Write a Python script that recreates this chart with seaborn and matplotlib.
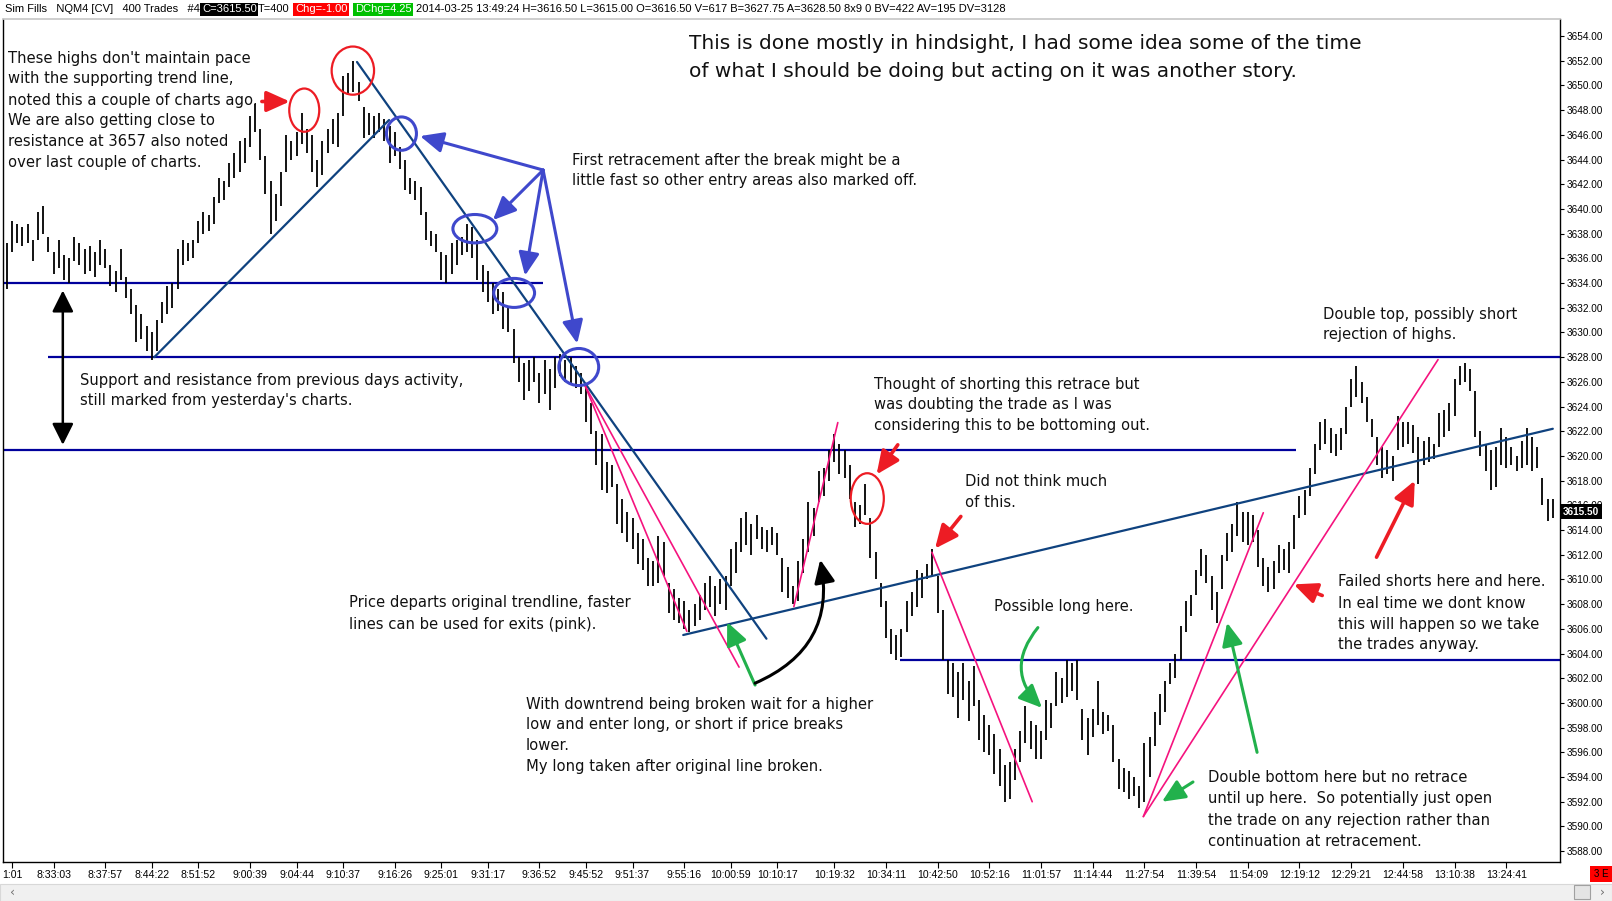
import numpy as np
import pandas as pd
import matplotlib
matplotlib.use("Agg")
import matplotlib.pyplot as plt
import seaborn as sns
from matplotlib.patches import Ellipse, FancyArrowPatch, Rectangle

# ---- NQM4 400 trade bars (high / low per bar) ----
bar_high = [
    3637.25, 3639.00, 3638.75, 3638.50, 3638.75, 3637.50, 3639.75, 3640.25, 3637.75, 3636.50,
    3637.50, 3636.25, 3636.00, 3637.75, 3637.25, 3636.75, 3637.00, 3636.50, 3637.50, 3636.75,
    3635.50, 3635.00, 3636.75, 3634.50, 3633.50, 3632.25, 3631.50, 3630.50, 3630.00, 3631.00,
    3632.50, 3633.75, 3634.00, 3636.75, 3637.50, 3637.25, 3637.50, 3639.00, 3639.75, 3639.50,
    3641.00, 3642.50, 3642.25, 3643.75, 3644.50, 3645.50, 3645.75, 3647.50, 3648.50, 3646.50,
    3644.25, 3642.25, 3641.25, 3643.00, 3646.00, 3645.50, 3646.25, 3647.75, 3646.50, 3646.00,
    3644.00, 3645.50, 3646.50, 3647.25, 3647.75, 3650.75, 3651.00, 3652.00, 3650.25, 3648.25,
    3647.75, 3647.50, 3647.75, 3647.25, 3646.75, 3646.25, 3645.00, 3644.00, 3642.50, 3642.25,
    3641.75, 3639.75, 3638.25, 3638.00, 3636.50, 3636.25, 3637.25, 3637.50, 3637.75, 3638.75,
    3638.50, 3637.50, 3635.50, 3635.00, 3634.00, 3633.50, 3633.25, 3632.00, 3630.25, 3628.00,
    3627.50, 3627.75, 3628.00, 3626.75, 3627.75, 3627.00, 3628.00, 3628.25, 3627.75, 3628.00,
    3627.25, 3626.75, 3625.75, 3624.25, 3622.00, 3621.75, 3619.50, 3619.25, 3617.75, 3616.50,
    3615.50, 3615.00, 3613.75, 3613.25, 3611.75, 3611.50, 3613.50, 3613.00, 3609.75, 3609.25,
    3608.50, 3608.25, 3607.50, 3608.00, 3608.75, 3609.75, 3610.25, 3609.50, 3610.00, 3610.25,
    3612.50, 3613.00, 3615.00, 3615.50, 3614.50, 3615.25, 3614.25, 3614.00, 3614.25, 3613.75,
    3611.75, 3611.00, 3609.50, 3611.50, 3613.25, 3616.25, 3615.75, 3618.75, 3619.00, 3620.50,
    3621.75, 3621.00, 3620.50, 3619.25, 3616.25, 3616.00, 3617.75, 3615.00, 3612.25, 3609.75,
    3608.25, 3606.00, 3605.50, 3606.00, 3608.25, 3609.00, 3610.75, 3610.50, 3611.25, 3612.50,
    3610.25, 3607.50, 3603.50, 3603.25, 3602.50, 3603.25, 3601.75, 3603.00, 3600.25, 3599.00,
    3598.25, 3597.50, 3596.25, 3595.00, 3595.25, 3596.25, 3597.75, 3599.75, 3598.50, 3598.25,
    3597.75, 3600.25, 3600.00, 3602.50, 3602.00, 3603.50, 3603.25, 3603.50, 3599.50, 3598.75,
    3599.50, 3601.75, 3599.25, 3599.00, 3598.25, 3595.50, 3594.75, 3594.50, 3594.00, 3593.25,
    3596.75, 3597.25, 3599.25, 3600.75, 3601.75, 3603.25, 3604.00, 3606.25, 3608.25, 3608.75,
    3610.75, 3612.50, 3612.00, 3610.25, 3609.00, 3612.00, 3613.75, 3614.50, 3616.25, 3615.50,
    3615.50, 3615.25, 3614.00, 3611.75, 3611.00, 3611.50, 3612.75, 3612.50, 3613.00, 3615.25,
    3616.75, 3617.25, 3619.00, 3621.00, 3622.75, 3623.00, 3622.25, 3621.75, 3622.25, 3624.00,
    3626.25, 3627.25, 3626.00, 3624.75, 3623.00, 3621.50, 3620.75, 3620.50, 3620.00, 3623.25,
    3622.75, 3622.75, 3622.50, 3621.50, 3621.25, 3621.50, 3621.00, 3623.50, 3623.75, 3624.25,
    3626.25, 3627.25, 3627.50, 3627.00, 3625.25, 3622.00, 3621.00, 3620.50, 3620.75, 3622.25,
    3621.50, 3620.75, 3620.00, 3621.25, 3622.25, 3621.50, 3620.75, 3618.25, 3616.50, 3616.50,
]
bar_low = [
    3633.50, 3636.50, 3637.25, 3637.00, 3637.25, 3635.75, 3637.50, 3638.00, 3636.50, 3634.75,
    3635.25, 3634.25, 3634.00, 3635.75, 3635.50, 3634.75, 3635.00, 3634.50, 3635.50, 3635.25,
    3633.75, 3633.25, 3634.25, 3632.75, 3631.50, 3629.25, 3629.50, 3628.50, 3627.75, 3628.50,
    3630.75, 3631.50, 3632.00, 3633.50, 3635.50, 3635.75, 3636.00, 3637.25, 3638.00, 3638.25,
    3638.75, 3640.50, 3640.75, 3641.75, 3642.50, 3643.00, 3643.75, 3645.00, 3646.25, 3644.00,
    3641.25, 3638.00, 3639.00, 3640.25, 3643.00, 3644.00, 3644.25, 3645.25, 3644.50, 3643.00,
    3641.75, 3642.75, 3644.50, 3645.25, 3645.00, 3647.50, 3649.25, 3649.50, 3648.75, 3645.75,
    3646.00, 3645.75, 3646.25, 3645.50, 3643.75, 3644.25, 3643.25, 3641.50, 3641.25, 3640.75,
    3639.50, 3637.50, 3637.00, 3636.50, 3634.25, 3634.00, 3634.75, 3635.50, 3636.25, 3636.50,
    3636.00, 3634.25, 3633.25, 3632.50, 3631.50, 3631.75, 3630.25, 3630.00, 3627.50, 3626.00,
    3624.50, 3625.25, 3626.00, 3624.25, 3625.00, 3623.75, 3625.50, 3626.50, 3626.00, 3625.75,
    3625.50, 3625.00, 3622.75, 3621.75, 3619.25, 3617.25, 3617.00, 3617.50, 3614.50, 3613.75,
    3613.00, 3612.50, 3611.25, 3610.75, 3609.50, 3609.50, 3609.75, 3610.25, 3607.25, 3606.75,
    3606.50, 3606.00, 3605.75, 3606.25, 3606.75, 3607.50, 3607.75, 3607.00, 3608.00, 3607.50,
    3609.50, 3610.50, 3612.25, 3612.75, 3612.00, 3613.25, 3612.50, 3612.25, 3612.75, 3612.00,
    3609.00, 3608.50, 3608.00, 3608.25, 3610.50, 3612.25, 3613.50, 3616.25, 3616.75, 3618.00,
    3619.50, 3618.50, 3618.25, 3616.50, 3614.25, 3614.50, 3615.25, 3611.75, 3610.00, 3607.75,
    3605.25, 3604.00, 3603.50, 3603.75, 3605.75, 3607.00, 3607.75, 3608.50, 3610.00, 3610.25,
    3607.25, 3603.50, 3600.75, 3600.50, 3598.75, 3600.25, 3598.50, 3599.75, 3597.00, 3596.00,
    3595.75, 3594.25, 3593.25, 3592.00, 3592.25, 3593.75, 3595.25, 3596.75, 3596.25, 3595.50,
    3595.50, 3597.00, 3598.00, 3599.75, 3600.00, 3600.50, 3601.00, 3600.25, 3597.00, 3595.75,
    3597.25, 3598.25, 3597.50, 3597.75, 3595.25, 3593.00, 3592.75, 3592.25, 3592.50, 3591.50,
    3592.00, 3594.00, 3596.50, 3598.25, 3599.25, 3601.50, 3602.00, 3603.50, 3605.75, 3607.00,
    3608.75, 3610.25, 3609.75, 3607.50, 3606.50, 3609.25, 3611.50, 3612.25, 3613.50, 3613.00,
    3612.75, 3613.00, 3611.00, 3609.50, 3609.00, 3609.25, 3610.50, 3610.75, 3610.50, 3612.50,
    3615.00, 3615.25, 3616.75, 3618.50, 3620.50, 3621.00, 3620.25, 3620.00, 3620.50, 3621.75,
    3624.00, 3624.75, 3624.25, 3622.75, 3621.50, 3619.25, 3618.25, 3618.50, 3618.00, 3620.50,
    3620.75, 3621.00, 3620.25, 3617.75, 3619.25, 3619.50, 3619.75, 3620.75, 3621.50, 3622.00,
    3623.25, 3625.75, 3626.00, 3625.25, 3621.50, 3620.00, 3618.75, 3617.25, 3617.50, 3619.25,
    3619.00, 3619.25, 3618.75, 3619.00, 3619.25, 3618.75, 3619.00, 3616.00, 3614.75, 3615.00,
]
last_price = 3615.50

tick_bars = [1, 9, 19, 28, 37, 47, 56, 65, 75, 84, 93, 103, 112, 121, 131, 140,
             149, 160, 170, 180, 190, 200, 210, 220, 230, 240, 250, 260, 270, 280, 290]
tick_labels = ["1:01", "8:33:03", "8:37:57", "8:44:22", "8:51:52", "9:00:39", "9:04:44",
               "9:10:37", "9:16:26", "9:25:01", "9:31:17", "9:36:52", "9:45:52", "9:51:37",
               "9:55:16", "10:00:59", "10:10:17", "10:19:32", "10:34:11", "10:42:50",
               "10:52:16", "11:01:57", "11:14:44", "11:27:54", "11:39:54", "11:54:09",
               "12:19:12", "12:29:21", "12:44:58", "13:10:38", "13:24:41"]

# support / resistance levels: price, first bar, last bar
level_price = [3634.0, 3628.0, 3620.5, 3603.5]
level_start = [-1.0, 8.0, -1.0, 172.7]
level_end = [103.7, 301.0, 249.3, 301.0]

# hand drawn trend lines (bar, price)
navy_lines = {
    "up": [(28.5, 3628.0), (73.9, 3647.2)],
    "down": [(67.7, 3651.9), (146.9, 3605.2)],
    "rising": [(130.8, 3605.5), (299.0, 3622.2)],
}
pink_lines = {
    "p1": [(111.8, 3625.7), (131.5, 3605.8)],
    "p2": [(111.8, 3625.7), (141.6, 3602.9)],
    "p3": [(152.2, 3607.8), (160.7, 3622.7)],
    "p4": [(178.9, 3612.2), (198.3, 3592.0)],
    "p5": [(219.8, 3590.8), (243.0, 3615.4)],
    "p6": [(219.8, 3590.8), (276.8, 3627.8)],
}

# circles: centre bar, centre price, width (bars), height (points)
red_circles = [(57.5, 3648.0, 5.8, 3.5), (66.9, 3651.2, 8.2, 3.9), (166.4, 3616.55, 6.4, 4.1)]
blue_circles = [(76.3, 3646.1, 5.8, 2.7), (90.5, 3638.4, 8.5, 2.3),
                (98.1, 3633.2, 7.9, 2.35), (110.6, 3627.2, 7.7, 3.0)]

blue_tail = (103.7, 3643.15)
blue_tips = [(79.9, 3645.9), (94.0, 3639.1), (100.2, 3634.6), (110.3, 3629.1)]
red_arrows = [((49.3, 3648.7), (54.7, 3648.7)), ((172.3, 3620.9), (168.2, 3618.5)),
              ((184.5, 3615.1), (179.5, 3612.5)), ((264.9, 3611.8), (272.3, 3618.0)),
              ((254.4, 3608.7), (248.9, 3609.6))]
green_arrows = [((144.7, 3601.45), (139.3, 3606.55)), ((241.8, 3596.0), (236.0, 3606.5)),
                ((229.4, 3593.6), (223.4, 3592.0))]
green_curve = ((199.4, 3606.1), (200.2, 3599.6))
black_curve = ((144.7, 3601.6), (157.3, 3611.6))
black_span = ((10.8, 3633.4), (10.8, 3620.9))

W, H = 1612, 901
NAVY = "#0F427F"
LEVEL = "#00009C"
PINK = "#F5137E"
RED = "#ED1C24"
GREEN = "#22B14C"
INDIGO = "#3F48CC"

sns.set_theme(style="white")
plt.rcParams["font.family"] = ["DejaVu Sans"]

fig = plt.figure(figsize=(W / 100, H / 100), dpi=100)
fig.patch.set_facecolor("white")
ax = fig.add_axes([3 / W, 1 - 862 / H, 1557 / W, 843 / H])
ax.set_facecolor("white")

bars = pd.DataFrame({"bar": np.arange(len(bar_high)), "high": bar_high, "low": bar_low})
ax.vlines(bars["bar"], bars["low"], bars["high"], color="black", lw=1.3, zorder=3)

for p, a, b in zip(level_price, level_start, level_end):
    ax.hlines(p, a, b, color=LEVEL, lw=1.6, zorder=2)


def seg_frame(segs):
    rows = []
    for name, pts in segs.items():
        for b, p in pts:
            rows.append({"name": name, "bar": b, "price": p})
    return pd.DataFrame(rows)


sns.lineplot(data=seg_frame(navy_lines), x="bar", y="price", units="name", estimator=None,
             sort=False, color=NAVY, lw=1.6, ax=ax, legend=False, zorder=4)
sns.lineplot(data=seg_frame(pink_lines), x="bar", y="price", units="name", estimator=None,
             sort=False, color=PINK, lw=1.2, ax=ax, legend=False, zorder=4)

for cx, cy, w, h in red_circles:
    ax.add_patch(Ellipse((cx, cy), w, h, fill=False, ec=RED, lw=1.6, zorder=5))
for cx, cy, w, h in blue_circles:
    ax.add_patch(Ellipse((cx, cy), w, h, fill=False, ec=INDIGO, lw=2.2, zorder=5))


def arrow(a, b, color, lw=2.2, style="-|>,head_length=1.0,head_width=0.45", ms=14, rad=0.0):
    ax.add_patch(FancyArrowPatch(a, b, arrowstyle=style, mutation_scale=ms, lw=lw,
                                 color=color, shrinkA=0, shrinkB=0, zorder=6,
                                 connectionstyle=f"arc3,rad={rad}"))


for tip in blue_tips:
    arrow(blue_tail, tip, INDIGO, lw=2.2)
for a, b in red_arrows:
    arrow(a, b, RED, lw=2.6)
for a, b in green_arrows:
    arrow(a, b, GREEN, lw=2.2)
arrow(*green_curve, GREEN, lw=2.2, rad=0.45)
arrow(*black_curve, "black", lw=2.2, rad=0.4)
arrow(*black_span, "black", lw=1.8, style="<|-|>,head_length=1.0,head_width=0.5", ms=13)

ax.set_xlim(-0.77, 300.39)
ax.set_ylim(3587.12, 3655.38)
ax.set_xlabel("")
ax.set_ylabel("")
ax.yaxis.tick_right()
yt = np.arange(3588, 3655, 2)
ax.set_yticks(yt)
ax.set_yticklabels([f"{v:.2f}" for v in yt])
ax.set_xticks(tick_bars)
ax.set_xticklabels(tick_labels)
ax.tick_params(axis="y", right=True, left=False, direction="out", length=3, width=0.8,
               labelsize=7.2, pad=2, colors="black", labelfontfamily="Liberation Sans")
ax.tick_params(axis="x", bottom=True, direction="out", length=4, width=0.8,
               labelsize=7.6, pad=2, colors="black", labelfontfamily="Liberation Sans")
for side in ["left", "right", "bottom"]:
    ax.spines[side].set_color("black")
    ax.spines[side].set_linewidth(1.0)
ax.spines["top"].set_color("#C8C8C8")
ax.grid(False)

# last price marker on the price scale (covers the 3616.00 label as in the platform)
ax.text(1.002, last_price, f"{last_price:.2f}", transform=ax.get_yaxis_transform(),
        ha="left", va="center", fontsize=7.2, color="white", family="Liberation Sans",
        fontweight="bold", bbox=dict(boxstyle="square,pad=0.25", fc="black", ec="none"),
        clip_on=False, zorder=10)


def px(x, y):
    return x / W, 1 - y / H


def note(lines, x, y, step=21.0, size=10.6):
    for k, line in enumerate(lines):
        fx, fy = px(x, y + k * step)
        fig.text(fx, fy, line, fontsize=size, va="baseline", ha="left", color="#111111")


note(["These highs don't maintain pace", "with the supporting trend line,",
      "noted this a couple of charts ago.", "We are also getting close to",
      "resistance at 3657 also noted", "over last couple of charts."], 8, 62.5)
note(["This is done mostly in hindsight, I had some idea some of the time",
      "of what I should be doing but acting on it was another story."], 689, 49,
     step=27.8, size=14.5)
note(["First retracement after the break might be a",
      "little fast so other entry areas also marked off."], 572, 164.5)
note(["Support and resistance from previous days activity,",
      "still marked from yesterday's charts."], 80, 384.5)
note(["Double top, possibly short", "rejection of highs."], 1323, 318.5)
note(["Thought of shorting this retrace but", "was doubting the trade as I was",
      "considering this to be bottoming out."], 874, 388.5)
note(["Did not think much", "of this."], 965, 485.5)
note(["Price departs original trendline, faster",
      "lines can be used for exits (pink)."], 349, 607.5)
note(["Possible long here."], 994, 610.5)
note(["Failed shorts here and here.", "In eal time we dont know",
      "this will happen so we take", "the trades anyway."], 1338, 586.5)
note(["With downtrend being broken wait for a higher",
      "low and enter long, or short if price breaks", "lower.",
      "My long taken after original line broken."], 526, 708.5)
note(["Double bottom here but no retrace", "until up here.  So potentially just open",
      "the trade on any rejection rather than", "continuation at retracement."], 1208, 782.5)

# header line
hdr = dict(fontsize=8, va="center", ha="left", family="Liberation Sans")
hy = px(0, 9.5)[1]
fig.text(5 / W, hy, "Sim Fills   NQM4 [CV]   400 Trades   #4", color="black", **hdr)
fig.text(202 / W, hy, "C=3615.50", color="white",
         bbox=dict(boxstyle="square,pad=0.15", fc="black", ec="none"), **hdr)
fig.text(258 / W, hy, "T=400", color="black", **hdr)
fig.text(295 / W, hy, "Chg=-1.00", color="white",
         bbox=dict(boxstyle="square,pad=0.15", fc="#FF0000", ec="none"), **hdr)
fig.text(355 / W, hy, "DChg=4.25", color="white",
         bbox=dict(boxstyle="square,pad=0.15", fc="#00C000", ec="none"), **hdr)
fig.text(416 / W, hy, "2014-03-25 13:49:24 H=3616.50 L=3615.00 O=3616.50 V=617 "
         "B=3627.75 A=3628.50 8x9 0 BV=422 AV=195 DV=3128", color="black", **hdr)

# scroll bar strip and corner box
fig.patches.append(Rectangle((0, 0), 1, 17 / H, transform=fig.transFigure,
                             fc="#F0F0F0", ec="#D8D8D8", lw=0.8, zorder=0))
fig.patches.append(Rectangle((1574 / W, 2 / H), 16 / W, 14 / H, transform=fig.transFigure,
                             fc="#E4E4E4", ec="#A0A0A0", lw=0.8, zorder=1))
fig.text(10 / W, 9 / H, "\u2039", fontsize=9, color="#707070", va="center")
fig.text(1600 / W, 9 / H, "\u203a", fontsize=9, color="#707070", va="center")
fig.patches.append(Rectangle((1590 / W, 1 - 882 / H), 22 / W, 16 / H,
                             transform=fig.transFigure, fc="#FF0000", ec="none", zorder=1))
fig.text(1601 / W, 1 - 874 / H, "3 E", fontsize=7, color="black", ha="center",
         va="center", family="Liberation Sans")

fig.savefig("out.png", dpi=100, facecolor="white")
